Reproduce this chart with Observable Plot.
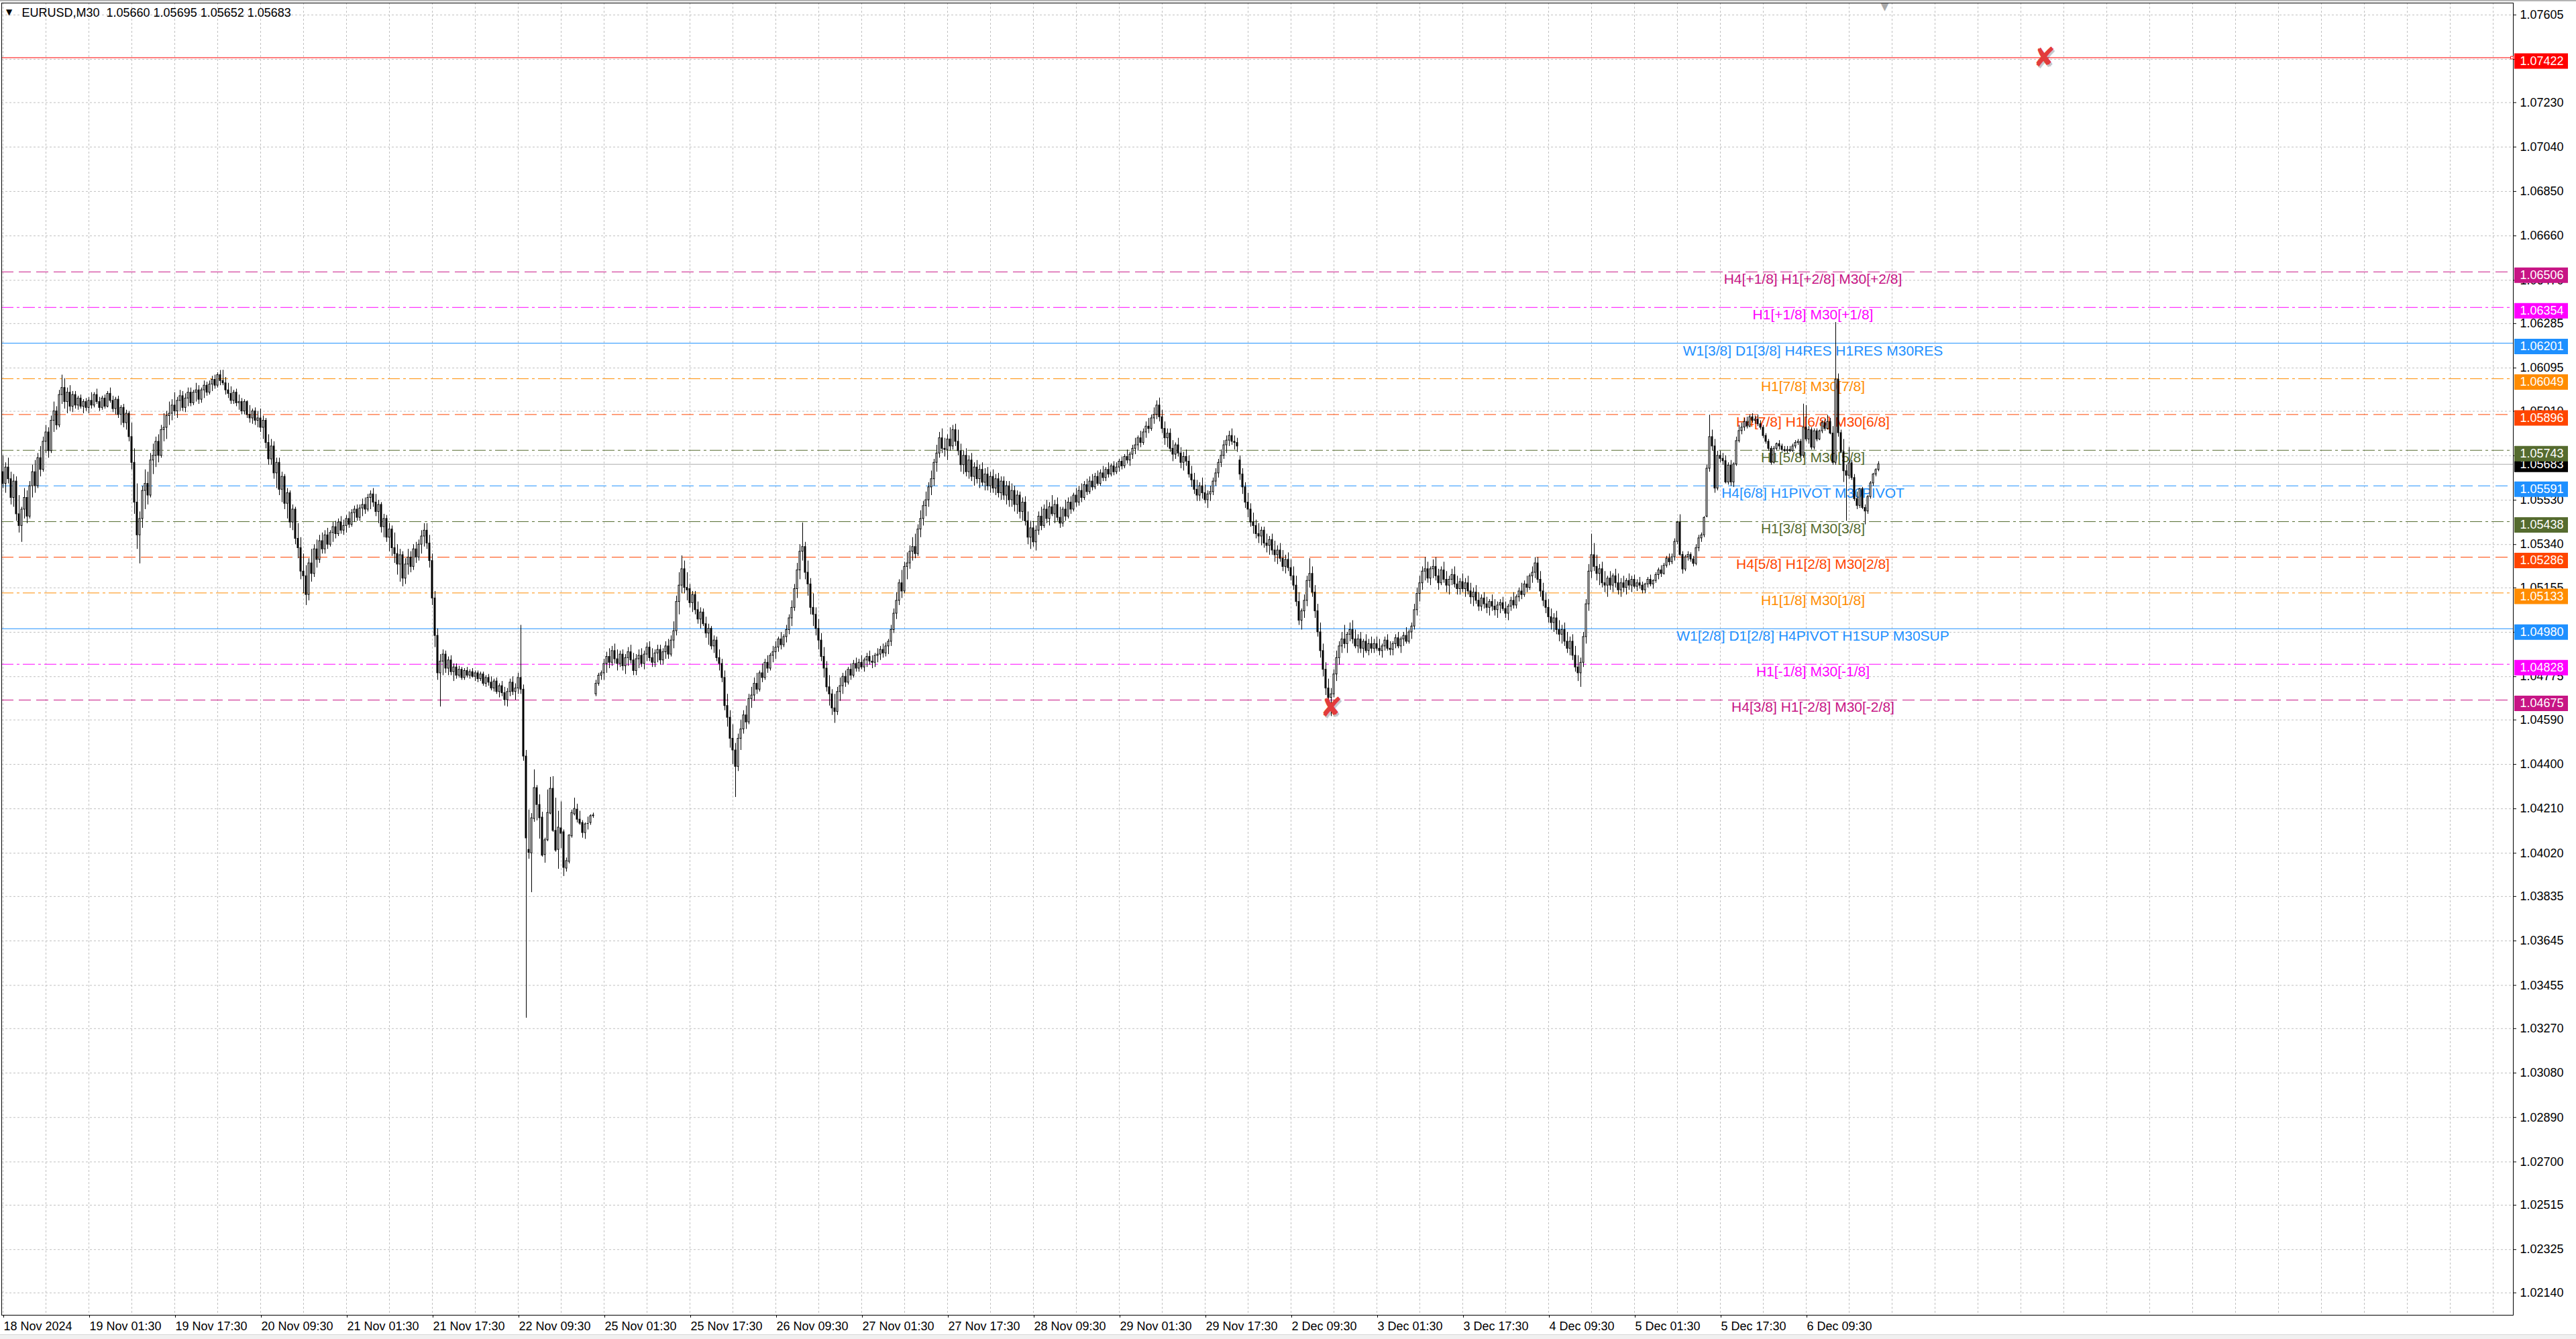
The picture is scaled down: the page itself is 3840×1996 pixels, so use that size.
<!DOCTYPE html>
<html><head><meta charset="utf-8">
<script src="https://cdn.jsdelivr.net/npm/d3@7"></script>
<script src="https://cdn.jsdelivr.net/npm/@observablehq/plot@0.6"></script>
<style>
html,body{margin:0;padding:0;background:#fff;overflow:hidden;}
#chart{position:relative;width:3840px;height:1996px;}
#chart svg{display:block;}
#topband{position:absolute;left:0;top:0;width:3840px;height:2px;background:#b4b4b4;}
#botband{position:absolute;left:0;top:1989px;width:3840px;height:7px;background:#f0f0f0;border-top:1px solid #d6d6d6;}
</style></head><body><div id="chart"><div id="topband"></div><div id="botband"></div></div>
<script>
// ---------- text / scale data ----------
const symbol = "EURUSD", timeframe = "M30";
const xLabels = ["18 Nov 2024","19 Nov 01:30","19 Nov 17:30","20 Nov 09:30","21 Nov 01:30","21 Nov 17:30","22 Nov 09:30","25 Nov 01:30","25 Nov 17:30","26 Nov 09:30","27 Nov 01:30","27 Nov 17:30","28 Nov 09:30","29 Nov 01:30","29 Nov 17:30","2 Dec 09:30","3 Dec 01:30","3 Dec 17:30","4 Dec 09:30","5 Dec 01:30","5 Dec 17:30","6 Dec 09:30"];
const barsPerLabel = 32;
const yTicks = [1.07605,1.07415,1.07230,1.07040,1.06850,1.06660,1.06470,1.06285,1.06095,1.05910,1.05720,1.05530,1.05340,1.05155,1.04965,1.04775,1.04590,1.04400,1.04210,1.04020,1.03835,1.03645,1.03455,1.03270,1.03080,1.02890,1.02700,1.02515,1.02325,1.02140];

// ---------- horizontal levels ----------
const levelPrices = [1.07422,1.06506,1.06354,1.06201,1.06049,1.05896,1.05743,1.05591,1.05438,1.05286,1.05133,1.04980,1.04828,1.04675];
const levelColors = ["#FF0000","#C71585","#FF00FF","#1E90FF","#FF8C00","#FF4500","#556B2F","#1E90FF","#556B2F","#FF4500","#FF8C00","#1E90FF","#FF00FF","#C71585"];
const levelStyles = ["solid","dash","dashdot","solid","dashdot","dash","dashdot","dash","dashdot","dash","dashdot","solid","dashdot","dash"];
const levelTexts = ["","H4[+1/8] H1[+2/8] M30[+2/8]","H1[+1/8] M30[+1/8]","W1[3/8] D1[3/8] H4RES H1RES M30RES","H1[7/8] M30[7/8]","H4[7/8] H1[6/8] M30[6/8]","H1[5/8] M30[5/8]","H4[6/8] H1PIVOT M30PIVOT","H1[3/8] M30[3/8]","H4[5/8] H1[2/8] M30[2/8]","H1[1/8] M30[1/8]","W1[2/8] D1[2/8] H4PIVOT H1SUP M30SUP","H1[-1/8] M30[-1/8]","H4[3/8] H1[-2/8] M30[-2/8]"];
const levelLabelBar = 674.5;
const bidPrice = 1.05683;
const crossBars = [760.75, 495];
const crossPrices = [1.07422, 1.04641];
const shiftMarkerBar = 701.25;

// ---------- M30 candles [open, high, low, close] in points above 1.00000 ----------
const nov18_0930 = [[5650,5720,5580,5600],[5600,5690,5560,5670],[5670,5710,5600,5620],[5620,5650,5510,5540],[5540,5640,5500,5610],[5610,5630,5440,5470],[5470,5550,5390,5420],[5420,5500,5350,5490],[5490,5580,5450,5540],[5540,5570,5430,5460],[5460,5610,5450,5590],[5590,5680,5540,5650],[5650,5700,5560,5590],[5590,5730,5580,5710],[5710,5760,5630,5660],[5660,5800,5650,5780],[5780,5850,5730,5820],[5820,5840,5710,5740],[5740,5890,5730,5870],[5870,5950,5820,5910],[5910,5930,5830,5850],[5850,6000,5840,5980],[5980,6065,5940,6010],[6010,6050,5920,5950],[5950,6010,5900,5990],[5990,6020,5910,5930],[5930,5995,5905,5980],[5980,5995,5920,5935],[5935,5975,5915,5965],[5965,5980,5920,5930],[5930,5960,5900,5950],[5950,5965,5910,5925]];
const nov19_0130 = [[5925,5970,5900,5955],[5955,5990,5920,5935],[5935,5990,5925,5980],[5980,6005,5940,5950],[5950,5970,5910,5925],[5925,5975,5915,5965],[5965,5980,5920,5930],[5930,5995,5925,5985],[5985,6010,5945,5955],[5955,5975,5905,5920],[5920,5970,5895,5960],[5960,5975,5880,5895],[5895,5935,5850,5925],[5925,5940,5840,5860],[5860,5915,5830,5900],[5900,5910,5780,5800],[5800,5860,5660,5690],[5690,5750,5470,5520],[5520,5600,5320,5380],[5380,5480,5258,5450],[5450,5590,5410,5570],[5570,5660,5490,5600],[5600,5650,5510,5550],[5550,5730,5540,5700],[5700,5770,5640,5720],[5720,5800,5670,5780],[5780,5810,5690,5720],[5720,5850,5710,5830],[5830,5900,5780,5840],[5840,5910,5790,5890],[5890,5950,5850,5900],[5900,5960,5870,5935]];
const nov19_1730 = [[5935,5990,5890,5910],[5910,5970,5880,5955],[5955,6000,5910,5975],[5975,5995,5910,5925],[5925,5985,5905,5965],[5965,6010,5930,5990],[5990,6010,5930,5945],[5945,6000,5935,5990],[5990,6030,5950,6000],[6000,6020,5940,5960],[5960,6010,5945,6000],[6000,6040,5965,6020],[6020,6035,5975,5990],[5990,6040,5980,6025],[6025,6060,5995,6045],[6045,6065,6005,6020],[6020,6075,6010,6065],[6065,6085,6020,6040],[6040,6086,6020,6030],[6030,6055,5980,6000],[6000,6030,5965,5985],[5985,6015,5940,5955],[5955,6000,5940,5990],[5990,6005,5930,5945],[5945,5980,5915,5950],[5950,5965,5895,5910],[5910,5960,5895,5950],[5950,5955,5880,5895],[5895,5935,5860,5880],[5880,5920,5855,5910],[5910,5925,5850,5870],[5870,5910,5840,5880]];
const nov20_0930 = [[5880,5920,5820,5840],[5840,5890,5790,5870],[5870,5880,5750,5775],[5775,5810,5680,5705],[5705,5790,5680,5760],[5760,5780,5620,5645],[5645,5710,5580,5690],[5690,5710,5550,5575],[5575,5650,5520,5630],[5630,5640,5490,5515],[5515,5580,5450,5560],[5560,5570,5410,5435],[5435,5510,5400,5490],[5490,5500,5340,5365],[5365,5430,5280,5325],[5325,5370,5190,5225],[5225,5300,5130,5205],[5205,5250,5080,5125],[5125,5280,5100,5260],[5260,5320,5180,5215],[5215,5340,5200,5320],[5320,5360,5240,5275],[5275,5380,5260,5355],[5355,5390,5300,5320],[5320,5400,5300,5380],[5380,5410,5320,5340],[5340,5400,5330,5390],[5390,5435,5350,5415],[5415,5440,5365,5385],[5385,5450,5375,5435],[5435,5460,5385,5400],[5400,5445,5380,5420]];
const nov21_0130 = [[5420,5465,5390,5450],[5450,5480,5410,5425],[5425,5490,5415,5475],[5475,5505,5435,5490],[5490,5510,5440,5455],[5455,5510,5440,5495],[5495,5535,5460,5510],[5510,5540,5470,5490],[5490,5555,5480,5540],[5540,5570,5490,5555],[5555,5580,5500,5520],[5520,5555,5460,5480],[5480,5530,5430,5510],[5510,5520,5390,5415],[5415,5470,5370,5450],[5450,5465,5350,5370],[5370,5430,5310,5405],[5405,5420,5290,5325],[5325,5390,5260,5300],[5300,5340,5210,5255],[5255,5320,5180,5295],[5295,5310,5160,5195],[5195,5280,5170,5255],[5255,5320,5210,5285],[5285,5310,5220,5245],[5245,5340,5230,5320],[5320,5350,5260,5285],[5285,5360,5270,5340],[5340,5400,5300,5375],[5375,5430,5330,5400],[5400,5430,5320,5345],[5345,5380,5240,5270]];
const nov21_1730 = [[5270,5300,5080,5110],[5110,5140,4900,4950],[4950,4980,4760,4790],[4790,4870,4646,4840],[4840,4890,4780,4870],[4870,4885,4790,4810],[4810,4860,4780,4845],[4845,4865,4780,4795],[4795,4830,4755,4815],[4815,4830,4765,4780],[4780,4820,4770,4805],[4805,4815,4760,4770],[4770,4810,4760,4800],[4800,4815,4770,4780],[4780,4805,4765,4795],[4795,4810,4770,4775],[4775,4800,4755,4790],[4790,4800,4750,4765],[4765,4795,4755,4785],[4785,4795,4735,4745],[4745,4780,4730,4770],[4770,4785,4735,4750],[4750,4775,4715,4725],[4725,4765,4710,4755],[4755,4770,4700,4710],[4710,4745,4685,4735],[4735,4755,4690,4705],[4705,4730,4650,4675],[4675,4725,4646,4710],[4710,4765,4690,4750],[4750,4775,4695,4710],[4710,4745,4675,4725]];
const nov22_0930 = [[4725,4790,4700,4770],[4770,4995,4700,4720],[4720,4740,4414,4434],[4434,4460,3315,4084],[4035,4205,3995,4022],[4020,4190,3852,4170],[4167,4377,4153,4299],[4299,4310,4159,4227],[4227,4270,4081,4170],[4173,4196,4004,4010],[4013,4085,3978,4076],[4076,4291,4070,4193],[4190,4345,4185,4296],[4296,4348,4110,4116],[4116,4256,4025,4032],[4035,4200,3952,4130],[4127,4240,4040,4104],[4110,4120,3921,3958],[3955,4000,3940,3987],[3984,4100,3975,4096],[4093,4205,4085,4193],[4187,4256,4180,4210],[4207,4230,4150,4164],[4164,4200,4140,4147],[4150,4160,4085,4107],[4107,4150,4080,4144],[4147,4175,4120,4147],[4150,4185,4140,4179],[4179,4192,4170,4182],[4700,4760,4690,4745],[4745,4790,4735,4780],[4780,4800,4760,4790]];
const nov25_0130 = [[4790,4850,4760,4830],[4830,4880,4790,4860],[4860,4895,4810,4835],[4835,4905,4820,4885],[4885,4915,4830,4850],[4850,4890,4800,4830],[4830,4885,4815,4870],[4870,4890,4800,4820],[4820,4870,4785,4855],[4855,4900,4820,4880],[4880,4910,4830,4845],[4845,4875,4780,4800],[4800,4870,4780,4850],[4850,4890,4810,4865],[4865,4895,4815,4830],[4830,4885,4805,4870],[4870,4920,4840,4900],[4900,4925,4840,4855],[4855,4895,4815,4835],[4835,4890,4815,4875],[4875,4910,4835,4890],[4890,4910,4825,4845],[4845,4895,4825,4880],[4880,4925,4850,4905],[4905,4935,4850,4870],[4870,4950,4860,4930],[4930,5010,4895,4970],[4970,5120,4950,5095],[5095,5220,5040,5165],[5165,5292,5130,5235],[5235,5270,5130,5155],[5155,5220,5100,5145]];
const nov25_1730 = [[5150,5170,5070,5090],[5090,5140,5050,5125],[5125,5140,5040,5060],[5060,5095,5000,5020],[5020,5070,4980,5050],[5050,5065,4990,5000],[5000,5030,4940,4960],[4960,5000,4910,4980],[4980,4990,4890,4905],[4905,4950,4875,4930],[4930,4945,4840,4855],[4855,4890,4800,4830],[4830,4850,4750,4770],[4770,4800,4630,4650],[4650,4700,4560,4600],[4600,4630,4470,4510],[4510,4570,4400,4460],[4460,4490,4259,4390],[4390,4530,4370,4510],[4510,4590,4460,4550],[4550,4630,4530,4610],[4610,4650,4550,4580],[4580,4700,4570,4680],[4680,4730,4640,4695],[4695,4770,4670,4745],[4745,4790,4700,4720],[4720,4800,4710,4790],[4790,4830,4750,4770],[4770,4850,4760,4835],[4835,4865,4790,4810],[4810,4875,4800,4865],[4865,4905,4835,4880]];
const nov26_0930 = [[4880,4925,4850,4900],[4900,4945,4880,4935],[4935,4965,4890,4910],[4910,4955,4900,4945],[4945,4995,4920,4975],[4975,5040,4955,5025],[5025,5100,4990,5070],[5070,5170,5055,5150],[5150,5260,5110,5230],[5230,5340,5190,5310],[5310,5433,5270,5330],[5330,5350,5190,5220],[5220,5270,5120,5170],[5170,5195,5040,5070],[5070,5130,4990,5040],[5040,5070,4950,4980],[4980,5020,4890,4930],[4930,4960,4840,4860],[4860,4900,4770,4810],[4810,4840,4710,4730],[4730,4780,4650,4700],[4700,4720,4610,4640],[4640,4700,4576,4625],[4625,4730,4610,4710],[4710,4770,4670,4735],[4735,4790,4700,4775],[4775,4800,4730,4750],[4750,4815,4740,4805],[4805,4830,4760,4780],[4780,4845,4770,4830],[4830,4855,4795,4810],[4810,4850,4795,4835]];
const nov27_0130 = [[4835,4865,4805,4815],[4815,4855,4795,4845],[4845,4875,4815,4860],[4860,4885,4825,4840],[4840,4865,4810,4835],[4835,4875,4815,4865],[4865,4895,4835,4870],[4870,4905,4845,4890],[4890,4915,4855,4875],[4875,4920,4860,4905],[4905,4935,4870,4925],[4925,4995,4905,4975],[4975,5065,4960,5045],[5045,5135,5020,5100],[5100,5190,5080,5175],[5175,5230,5110,5140],[5140,5265,5130,5245],[5245,5305,5190,5260],[5260,5335,5235,5310],[5310,5370,5270,5330],[5330,5385,5280,5300],[5300,5425,5290,5405],[5405,5485,5370,5450],[5450,5525,5420,5505],[5505,5565,5460,5530],[5530,5605,5500,5585],[5585,5655,5550,5620],[5620,5705,5590,5690],[5690,5765,5650,5730],[5730,5820,5710,5795],[5795,5835,5730,5750],[5750,5795,5715,5745]];
const nov27_1730 = [[5745,5810,5700,5790],[5790,5840,5740,5760],[5760,5850,5745,5830],[5830,5855,5760,5780],[5780,5830,5720,5740],[5740,5770,5650,5680],[5680,5740,5640,5720],[5720,5750,5630,5650],[5650,5720,5620,5700],[5700,5730,5610,5630],[5630,5690,5590,5670],[5670,5700,5600,5620],[5620,5680,5580,5660],[5660,5690,5590,5605],[5605,5665,5570,5640],[5640,5670,5570,5590],[5590,5650,5560,5630],[5630,5660,5560,5580],[5580,5640,5550,5620],[5620,5645,5540,5560],[5560,5630,5530,5610],[5610,5630,5530,5550],[5550,5610,5510,5590],[5590,5610,5500,5530],[5530,5600,5500,5570],[5570,5590,5480,5510],[5510,5570,5470,5550],[5550,5565,5450,5480],[5480,5540,5440,5520],[5520,5545,5420,5440],[5440,5480,5340,5370],[5370,5440,5320,5410]];
const nov28_0930 = [[5410,5440,5330,5350],[5350,5420,5313,5400],[5400,5480,5380,5460],[5460,5500,5400,5420],[5420,5510,5410,5490],[5490,5530,5430,5450],[5450,5520,5420,5500],[5500,5550,5460,5470],[5470,5530,5430,5510],[5510,5540,5440,5455],[5455,5500,5410,5430],[5430,5500,5415,5490],[5490,5530,5440,5460],[5460,5540,5450,5520],[5520,5545,5470,5490],[5490,5560,5480,5550],[5550,5580,5500,5520],[5520,5590,5505,5570],[5570,5600,5520,5540],[5540,5610,5530,5595],[5595,5620,5550,5565],[5565,5630,5555,5610],[5610,5640,5570,5585],[5585,5645,5575,5630],[5630,5655,5590,5600],[5600,5660,5590,5645],[5645,5675,5610,5625],[5625,5670,5610,5660],[5660,5690,5625,5640],[5640,5685,5630,5675],[5675,5695,5635,5650],[5650,5690,5640,5670]];
const nov29_0130 = [[5670,5705,5650,5695],[5695,5715,5660,5675],[5675,5725,5665,5715],[5715,5745,5685,5700],[5700,5735,5675,5725],[5725,5765,5705,5750],[5750,5795,5725,5765],[5765,5805,5740,5795],[5795,5825,5755,5775],[5775,5835,5765,5820],[5820,5865,5795,5845],[5845,5880,5815,5835],[5835,5895,5825,5880],[5880,5925,5855,5895],[5895,5955,5875,5935],[5935,5967,5865,5885],[5885,5915,5815,5835],[5835,5865,5765,5795],[5795,5835,5755,5815],[5815,5835,5735,5750],[5750,5785,5695,5725],[5725,5775,5705,5765],[5765,5795,5715,5730],[5730,5755,5665,5690],[5690,5735,5655,5715],[5715,5745,5675,5695],[5695,5720,5625,5640],[5640,5675,5585,5615],[5615,5645,5555,5575],[5575,5615,5525,5550],[5550,5605,5525,5590],[5590,5625,5535,5560]];
const nov29_1730 = [[5560,5595,5515,5530],[5530,5570,5495,5555],[5555,5590,5525,5565],[5565,5625,5550,5610],[5610,5665,5590,5645],[5645,5705,5625,5690],[5690,5745,5670,5720],[5720,5785,5705,5765],[5765,5805,5730,5785],[5785,5825,5760,5805],[5805,5835,5765,5780],[5780,5805,5745,5775],[5775,5795,5735,5760],[5700,5720,5615,5640],[5640,5665,5555,5585],[5585,5605,5495,5520],[5520,5560,5455,5490],[5490,5515,5415,5435],[5435,5475,5385,5420],[5420,5445,5365,5385],[5385,5430,5345,5375],[5375,5415,5335,5400],[5400,5415,5325,5345],[5345,5385,5305,5335],[5335,5375,5295,5360],[5360,5385,5295,5315],[5315,5355,5265,5295],[5295,5335,5255,5315],[5315,5345,5265,5280],[5280,5315,5225,5245],[5245,5295,5215,5275],[5275,5305,5225,5240]];
const dec02_0930 = [[5240,5275,5185,5205],[5205,5245,5145,5165],[5165,5205,5075,5095],[5095,5135,4995,5015],[5015,5065,4975,5055],[5055,5125,5025,5100],[5100,5205,5075,5185],[5185,5280,5155,5215],[5215,5245,5115,5135],[5135,5165,5025,5055],[5055,5085,4945,4965],[4965,5005,4855,4885],[4885,4915,4775,4805],[4805,4835,4695,4725],[4725,4765,4635,4685],[4685,4725,4605,4700],[4700,4805,4685,4785],[4785,4885,4755,4855],[4855,4925,4825,4905],[4905,4965,4875,4935],[4935,4995,4895,4915],[4915,4965,4875,4955],[4955,5005,4925,4975],[4975,5015,4915,4935],[4935,4975,4895,4905],[4905,4955,4875,4935],[4935,4965,4875,4895],[4895,4935,4855,4925],[4925,4955,4875,4885],[4885,4935,4865,4915],[4915,4945,4875,4895],[4895,4935,4875,4915]];
const dec03_0130 = [[4915,4945,4885,4895],[4895,4935,4865,4885],[4885,4915,4855,4905],[4905,4945,4885,4930],[4930,4955,4885,4895],[4895,4925,4865,4890],[4890,4925,4865,4915],[4915,4955,4895,4940],[4940,4965,4895,4905],[4905,4945,4875,4935],[4935,4965,4905,4950],[4950,4985,4915,4925],[4925,4975,4915,4965],[4965,5005,4935,4990],[4990,5085,4975,5060],[5060,5155,5035,5130],[5130,5205,5095,5175],[5175,5245,5145,5225],[5225,5285,5185,5235],[5235,5265,5175,5195],[5195,5245,5165,5235],[5235,5275,5195,5245],[5245,5285,5185,5205],[5205,5235,5145,5175],[5175,5245,5165,5230],[5230,5265,5175,5190],[5190,5225,5135,5165],[5165,5205,5125,5190],[5190,5235,5165,5210],[5210,5245,5155,5170],[5170,5205,5125,5150],[5150,5195,5125,5180]];
const dec03_1730 = [[5180,5215,5135,5150],[5150,5195,5115,5175],[5175,5205,5125,5140],[5140,5175,5085,5115],[5115,5155,5075,5135],[5135,5165,5085,5100],[5100,5135,5055,5075],[5075,5125,5055,5110],[5110,5135,5065,5085],[5085,5115,5045,5070],[5070,5105,5035,5095],[5095,5125,5055,5075],[5075,5105,5035,5060],[5060,5095,5025,5080],[5080,5105,5045,5090],[5090,5115,5055,5065],[5065,5095,5025,5045],[5045,5085,5015,5075],[5075,5115,5055,5100],[5100,5135,5065,5080],[5080,5125,5065,5115],[5115,5155,5095,5140],[5140,5175,5105,5125],[5125,5185,5115,5170],[5170,5205,5135,5155],[5155,5215,5145,5205],[5205,5245,5175,5220],[5220,5285,5195,5260],[5260,5285,5175,5190],[5190,5225,5115,5140],[5140,5175,5075,5100],[5100,5135,5045,5070]];
const dec04_0930 = [[5070,5105,5005,5030],[5030,5065,4975,5005],[5005,5045,4965,5025],[5025,5055,4955,4975],[4975,5015,4925,4955],[4955,4995,4915,4975],[4975,5005,4905,4925],[4925,4965,4875,4895],[4895,4945,4865,4925],[4925,4955,4845,4865],[4865,4905,4795,4815],[4815,4865,4755,4790],[4790,4855,4730,4835],[4835,4965,4815,4945],[4945,5105,4915,5085],[5085,5255,5055,5225],[5225,5385,5195,5295],[5295,5345,5225,5245],[5245,5295,5185,5215],[5215,5255,5165,5235],[5235,5265,5155,5175],[5175,5225,5135,5165],[5165,5205,5115,5195],[5195,5225,5145,5165],[5165,5215,5135,5205],[5205,5235,5155,5175],[5175,5215,5125,5145],[5145,5195,5115,5175],[5175,5205,5135,5155],[5155,5195,5125,5185],[5185,5215,5145,5165],[5165,5205,5135,5190]];
const dec05_0130 = [[5190,5210,5150,5160],[5160,5190,5140,5175],[5175,5200,5150,5165],[5165,5180,5130,5145],[5145,5175,5130,5170],[5170,5200,5155,5190],[5190,5210,5160,5170],[5170,5190,5150,5185],[5185,5220,5175,5210],[5210,5240,5190,5230],[5230,5250,5200,5215],[5215,5260,5210,5250],[5250,5290,5240,5280],[5280,5300,5250,5265],[5265,5300,5255,5286],[5286,5365,5270,5352],[5352,5440,5340,5434],[5434,5468,5290,5296],[5296,5310,5214,5234],[5234,5295,5225,5286],[5286,5310,5270,5296],[5296,5305,5265,5277],[5277,5290,5245,5258],[5258,5340,5250,5325],[5325,5380,5310,5367],[5367,5390,5350,5380],[5380,5460,5370,5454],[5460,5680,5455,5665],[5665,5894,5650,5800],[5800,5830,5740,5760],[5760,5790,5560,5580],[5580,5740,5570,5720]];
const dec05_1730 = [[5720,5740,5690,5707],[5707,5730,5680,5697],[5697,5720,5600,5606],[5606,5690,5595,5678],[5678,5700,5590,5606],[5606,5690,5585,5683],[5683,5800,5675,5783],[5783,5850,5775,5826],[5826,5860,5810,5841],[5841,5880,5825,5865],[5865,5885,5835,5845],[5845,5895,5840,5885],[5885,5900,5860,5870],[5870,5890,5855,5875],[5875,5895,5845,5855],[5855,5870,5830,5840],[5840,5850,5795,5805],[5805,5815,5770,5780],[5780,5790,5740,5750],[5750,5760,5680,5690],[5690,5760,5685,5750],[5750,5775,5740,5770],[5770,5785,5745,5760],[5760,5770,5735,5745],[5745,5760,5735,5740],[5740,5760,5730,5745],[5745,5760,5735,5740],[5740,5770,5735,5760],[5760,5785,5750,5775],[5775,5790,5765,5780],[5780,5790,5710,5720],[5720,5941,5710,5841]];
const dec06_0930 = [[5841,5935,5780,5790],[5790,5845,5770,5830],[5830,5840,5745,5755],[5755,5835,5745,5825],[5825,5835,5780,5790],[5790,5830,5785,5825],[5825,5870,5815,5860],[5860,5875,5825,5835],[5835,5893,5830,5865],[5865,5880,5810,5815],[5815,5845,5680,5690],[5690,6290,5680,6046],[6046,6070,5800,5817],[5817,5830,5730,5736],[5736,5790,5606,5654],[5654,5680,5440,5635],[5635,5755,5620,5688],[5688,5700,5615,5625],[5625,5640,5525,5535],[5535,5565,5490,5506],[5506,5580,5495,5578],[5578,5585,5490,5497],[5497,5510,5425,5482],[5482,5550,5470,5544],[5544,5610,5535,5602],[5602,5645,5590,5640],[5640,5665,5630,5659],[5660,5695,5652,5683]];

const segments = [nov18_0930,nov19_0130,nov19_1730,nov20_0930,nov21_0130,nov21_1730,nov22_0930,nov25_0130,nov25_1730,nov26_0930,nov27_0130,nov27_1730,nov28_0930,nov29_0130,nov29_1730,dec02_0930,dec03_0130,dec03_1730,dec04_0930,dec05_0130,dec05_1730,dec06_0930];

// ---------- build tables ----------
const P = v => 1 + v / 100000;
const bars = segments.flat().map((d, i) => {
  const o = P(d[0]), c = P(d[3]);
  return {i, o, c, h: Math.max(P(d[1]), o, c), l: Math.min(P(d[2]), o, c)};
});
const bull = bars.filter(d => d.c - d.o > 0.000015);
const bear = bars.filter(d => d.o - d.c > 0.000015);
const doji = bars.filter(d => Math.abs(d.c - d.o) <= 0.000015);
const levels = levelPrices.map((p, k) => ({price: p, color: levelColors[k], style: levelStyles[k], label: levelTexts[k]}));
const crosses = crossBars.map((b, k) => ({bar: b, price: crossPrices[k]}));
const xTickBars = xLabels.map((_, k) => k * barsPerLabel);
const labelByBar = new Map(xTickBars.map((b, k) => [b, xLabels[k]]));
const last = bars[bars.length - 1];
const f5 = v => v.toFixed(5);
const title = `${symbol},${timeframe}\u00a0\u00a0${f5(last.o)} ${f5(last.h)} ${f5(last.l)} ${f5(last.c)}`;

// ---------- layout ----------
const FONT = "'Liberation Sans', Arial, Helvetica, sans-serif";
const SYM = "'DejaVu Sans', sans-serif";
const W = 3840, H = 1996;
const M = {left: 2, right: 94, top: 4, bottom: 36};
const BAR_PX = 4, BAR0_PX = 4;
const xDomain = [(M.left - BAR0_PX) / BAR_PX, (W - M.right - BAR0_PX) / BAR_PX];
const yDomain = [1.020444, 1.076558];
const boxX1 = xDomain[1] + 0.5, boxX2 = xDomain[1] + 20.5, boxTextX = xDomain[1] + 2.5;
const DASH = "18,8", DASHDOT = "18,5,4,5", GRID = "3,3";

const chart = Plot.plot({
  width: W, height: H,
  marginLeft: M.left, marginRight: M.right, marginTop: M.top, marginBottom: M.bottom,
  x: {type: "linear", domain: xDomain},
  y: {type: "linear", domain: yDomain},
  color: {type: "identity"},
  style: {background: "white", fontFamily: FONT, fontSize: "18px", overflow: "visible"},
  marks: [
    Plot.gridY(yTicks, {stroke: "#c0c0c0", strokeOpacity: 1, strokeDasharray: GRID}),
    Plot.gridX(d3.range(0, xDomain[1], 16), {stroke: "#c0c0c0", strokeOpacity: 1, strokeDasharray: GRID}),
    Plot.ruleY(levels.filter(d => d.style === "solid"), {y: "price", stroke: "color", strokeWidth: 1}),
    Plot.ruleY(levels.filter(d => d.style === "dash"), {y: "price", stroke: "color", strokeWidth: 1, strokeDasharray: DASH}),
    Plot.ruleY(levels.filter(d => d.style === "dashdot"), {y: "price", stroke: "color", strokeWidth: 1, strokeDasharray: DASHDOT}),
    Plot.ruleY([bidPrice], {y: d => d, stroke: "#aaaaaa", strokeWidth: 1}),
    Plot.text(levels.filter(d => d.label), {x: () => levelLabelBar, y: "price", text: "label", fill: "color", fontSize: 21, fontFamily: FONT, lineAnchor: "top", dy: 3}),
    Plot.ruleX(bars, {x: "i", y1: "l", y2: "h", stroke: "black", strokeWidth: 1}),
    Plot.rect(bull, {x1: d => d.i - 0.25, x2: d => d.i + 0.25, y1: "o", y2: "c", fill: "white", stroke: "black", strokeWidth: 1}),
    Plot.rect(bear, {x1: d => d.i - 0.25, x2: d => d.i + 0.25, y1: "o", y2: "c", fill: "black", stroke: "black", strokeWidth: 1}),
    Plot.ruleY(doji, {y: "c", x1: d => d.i - 0.375, x2: d => d.i + 0.375, stroke: "black", strokeWidth: 1}),
    Plot.frame({stroke: "black", strokeWidth: 1}),
    Plot.axisX(xTickBars, {anchor: "bottom", tickSize: 4, tickPadding: 6, tickFormat: d => labelByBar.get(d), textAnchor: "start", dx: 1, fontSize: 18, fontFamily: FONT, color: "black", label: null}),
    Plot.axisY(yTicks, {anchor: "right", tickSize: 4, tickPadding: 6, tickFormat: f5, fontSize: 18, fontFamily: FONT, color: "black", label: null}),
    Plot.ruleY([bidPrice], {y: d => d, x1: () => boxX1, x2: () => boxX2, stroke: "black", strokeWidth: 23}),
    Plot.text([bidPrice], {x: () => boxTextX, y: d => d, text: f5, fill: "white", textAnchor: "start", fontSize: 18, fontFamily: FONT}),
    Plot.ruleY(levels, {y: "price", x1: () => boxX1, x2: () => boxX2, stroke: "color", strokeWidth: 23, dy: 5}),
    Plot.text(levels, {x: () => boxTextX, y: "price", text: d => f5(d.price), fill: "white", textAnchor: "start", fontSize: 18, fontFamily: FONT, dy: 5}),
    Plot.dot([levelPrices[0]], {x: () => xDomain[1] - 0.5, y: d => d, symbol: "square", r: 2.2, stroke: levelColors[0], fill: "white", strokeWidth: 1}),
    Plot.text(crosses, {x: "bar", y: "price", text: () => "\u2718", fill: "#000", fillOpacity: 0.22, fontSize: 40, fontFamily: SYM, dx: 2, dy: 3}),
    Plot.text(crosses, {x: "bar", y: "price", text: () => "\u2718", fill: "#e23c3c", fontSize: 40, fontFamily: SYM}),
    Plot.text([shiftMarkerBar], {x: d => d, frameAnchor: "top", text: () => "\u25BC", fill: "#a8a8a8", fontSize: 15, fontFamily: SYM, lineAnchor: "top", dy: 0}),
    Plot.text(["\u25BC"], {frameAnchor: "top-left", text: d => d, dx: 11, dy: 9, textAnchor: "middle", lineAnchor: "top", fontSize: 12, fontFamily: SYM, fill: "black"}),
    Plot.text([title], {frameAnchor: "top-left", text: d => d, dx: 30, dy: 8, lineAnchor: "top", textAnchor: "start", fontSize: 18, fontFamily: FONT, fill: "black"})
  ]
});
document.getElementById("chart").appendChild(chart);
</script>
</body></html>
